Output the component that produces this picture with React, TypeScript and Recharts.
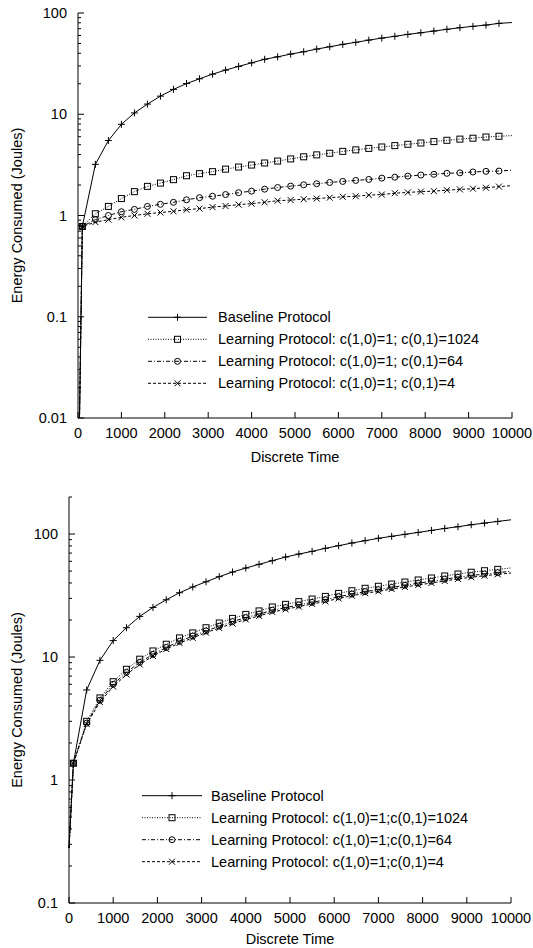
import React from "react";
import { LineChart, Line, XAxis, YAxis } from "recharts";

// discrete time steps (x)
const times = [
  0, 100, 400, 700, 1000, 1300, 1600, 1900, 2200, 2500, 2800, 3100, 3400, 3700,
  4000, 4300, 4600, 4900, 5200, 5500, 5800, 6100, 6400, 6700, 7000, 7300, 7600,
  7900, 8200, 8500, 8800, 9100, 9400, 9700, 10000,
];

// upper plot
const topBaseline = [
  0.001, 0.78, 3.2, 5.5, 7.95, 10.3, 12.6, 15.1, 17.6, 20.1, 22.4, 24.9, 27.3,
  29.7, 32.2, 34.9, 36.9, 39.3, 41.4, 44, 46.4, 49, 51.3, 54, 56.5, 58.8, 61.5,
  63.8, 66.3, 69, 71.6, 73.8, 76, 79, 80.5,
];
const topC1024 = [
  0.001, 0.78, 1.04, 1.23, 1.47, 1.72, 1.94, 2.09, 2.26, 2.47, 2.59, 2.71, 2.87,
  3.01, 3.15, 3.3, 3.45, 3.62, 3.8, 3.97, 4.12, 4.3, 4.45, 4.6, 4.75, 4.9, 5.05,
  5.2, 5.37, 5.53, 5.68, 5.8, 5.96, 6.06, 6.15,
];
const topC64 = [
  0.001, 0.78, 0.91, 1.0, 1.09, 1.15, 1.23, 1.29, 1.35, 1.43, 1.5, 1.55, 1.61,
  1.68, 1.74, 1.82, 1.89, 1.95, 2.01, 2.06, 2.12, 2.17, 2.22, 2.27, 2.34, 2.39,
  2.45, 2.51, 2.55, 2.61, 2.64, 2.69, 2.73, 2.75, 2.8,
];
const topC4 = [
  0.001, 0.78, 0.86, 0.91, 0.96, 1.0, 1.04, 1.07, 1.1, 1.14, 1.17, 1.21, 1.24,
  1.28, 1.31, 1.35, 1.4, 1.42, 1.45, 1.47, 1.5, 1.53, 1.55, 1.59, 1.61, 1.66,
  1.69, 1.72, 1.74, 1.78, 1.81, 1.84, 1.88, 1.93, 1.97,
];

// lower plot
const botBaseline = [
  0.28, 1.37, 5.4, 9.4, 13.6, 17.3, 21.4, 25.3, 29.2, 33.3, 37.1, 40.9, 45,
  49.1, 52.9, 56.7, 60.7, 65, 68.7, 72.3, 76.5, 80.4, 84.5, 88.3, 92.3, 95.8,
  99.4, 103, 107, 111, 114.6, 119, 122.7, 126.6, 130.5,
];
const botC1024 = [
  0.28, 1.37, 3.0, 4.65, 6.3, 7.95, 9.6, 11.2, 12.7, 14.3, 15.7, 17.3, 18.9,
  20.6, 22.2, 23.7, 25.5, 26.8, 28.2, 29.6, 31.1, 32.9, 34.6, 36.2, 37.6, 39.2,
  40.7, 42.3, 43.9, 45.6, 47.3, 48.9, 50.3, 51.6, 53.0,
];
const botC64 = [
  0.28, 1.37, 2.9, 4.45, 6.0, 7.5, 9.05, 10.5, 11.95, 13.4, 14.8, 16.3, 17.8,
  19.4, 20.9, 22.3, 24.0, 25.2, 26.5, 27.8, 29.2, 30.9, 32.5, 34.0, 35.3, 36.8,
  38.3, 39.8, 41.3, 42.9, 44.5, 46.0, 47.3, 48.5, 49.8,
];
const botC4 = [
  0.28, 1.37, 2.85, 4.3, 5.75, 7.2, 8.7, 10.2, 11.6, 13.0, 14.3, 15.8, 17.2,
  18.7, 20.2, 21.6, 23.2, 24.4, 25.7, 27.0, 28.3, 29.9, 31.5, 33.0, 34.2, 35.7,
  37.1, 38.5, 40.0, 41.5, 43.1, 44.5, 45.8, 47.0, 48.2,
];

const xTicks = [0, 1000, 2000, 3000, 4000, 5000, 6000, 7000, 8000, 9000, 10000];
const topMajors = [0.01, 0.1, 1, 10, 100];
const botMajors = [0.1, 1, 10, 100];

const topNames = [
  "Baseline Protocol",
  "Learning Protocol: c(1,0)=1; c(0,1)=1024",
  "Learning Protocol: c(1,0)=1; c(0,1)=64",
  "Learning Protocol: c(1,0)=1; c(0,1)=4",
];
const botNames = [
  "Baseline Protocol",
  "Learning Protocol: c(1,0)=1;c(0,1)=1024",
  "Learning Protocol: c(1,0)=1;c(0,1)=64",
  "Learning Protocol: c(1,0)=1;c(0,1)=4",
];

const keys = ["base", "c1024", "c64", "c4"];
const markers = ["plus", "square", "circle", "cross"];
const dashes = [undefined, "1 1.5", "4 2 1 2", "3 2"];

const FONT = '"Liberation Sans", Arial, Helvetica, sans-serif';
const FS = 14.5;
const INK = "#000";

function logTicks(majors: number[], max: number) {
  const out: number[] = [];
  majors.forEach((m) => {
    for (let k = 1; k <= 9; k++) {
      const v = +(m * k).toPrecision(6);
      if (v <= max) out.push(v);
    }
  });
  return out;
}

const isMajor = (v: number) => {
  const l = Math.log10(v);
  return Math.abs(l - Math.round(l)) < 1e-9;
};

function Marker({ kind, cx, cy }: { kind: string; cx: number; cy: number }) {
  const s = { stroke: INK, strokeWidth: 1, fill: "none" };
  if (kind === "plus")
    return <path d={`M${cx - 3.5},${cy}h7M${cx},${cy - 3.5}v7`} {...s} />;
  if (kind === "square")
    return <rect x={cx - 3} y={cy - 3} width={6} height={6} {...s} />;
  if (kind === "circle") return <circle cx={cx} cy={cy} r={3} {...s} />;
  return <path d={`M${cx - 3},${cy - 3}l6,6M${cx - 3},${cy + 3}l6,-6`} {...s} />;
}

const LEFT_GAP = 11;

function LeftTick(props: any) {
  const { x, y, payload } = props;
  const v = payload.value;
  const major = isMajor(v);
  const ax = x + LEFT_GAP;
  return (
    <g>
      <line x1={ax} x2={ax + (major ? 6 : 3)} y1={y} y2={y} stroke={INK} />
      {major && (
        <text x={x} y={y} dy="0.35em" textAnchor="end" fontFamily={FONT} fontSize={FS} fill={INK}>
          {String(v)}
        </text>
      )}
    </g>
  );
}

function RightTick(props: any) {
  const { x, y, payload } = props;
  const major = isMajor(payload.value);
  return <line x1={x} x2={x - (major ? 6 : 3)} y1={y} y2={y} stroke={INK} />;
}

function BottomTick(props: any) {
  const { x, y, payload } = props;
  return (
    <g>
      <line x1={x} x2={x} y1={y} y2={y - 6} stroke={INK} />
      <text x={x} y={y + 15} dy="0.35em" textAnchor="middle" fontFamily={FONT} fontSize={FS} fill={INK}>
        {String(payload.value)}
      </text>
    </g>
  );
}

function TopTick(props: any) {
  const { x, y } = props;
  return <line x1={x} x2={x} y1={y} y2={y + 6} stroke={INK} />;
}

type PanelProps = {
  series: number[][];
  names: string[];
  yDomain: [number, number];
  majors: number[];
  plot: { left: number; top: number; right: number; bottom: number };
  legend: { top: number; x1: number; x2: number; tx: number };
  yTitleY: number;
  xTitleY: number;
};

const W = 533;
const H = 474;

function Panel({ series, names, yDomain, majors, plot, legend, yTitleY, xTitleY }: PanelProps) {
  const rows = times.map((t, i) => {
    const r: any = { t };
    keys.forEach((k, j) => (r[k] = series[j][i]));
    return r;
  });
  const yTicks = logTicks(majors, yDomain[1]);
  const xAxisH = 40;

  return (
    <div style={{ position: "relative", width: W, height: H }}>
      <LineChart
        width={W}
        height={H}
        data={rows}
        margin={{
          top: plot.top,
          left: 0,
          right: W - plot.right,
          bottom: H - plot.bottom - xAxisH,
        }}
      >
        <XAxis
          dataKey="t"
          type="number"
          domain={[0, 10000]}
          ticks={xTicks}
          interval={0}
          height={xAxisH}
          tickSize={0}
          tickMargin={0}
          tickLine={false}
          axisLine={{ stroke: INK }}
          tick={<BottomTick />}
        />
        <XAxis
          xAxisId="top"
          orientation="top"
          dataKey="t"
          type="number"
          domain={[0, 10000]}
          ticks={xTicks}
          interval={0}
          height={0}
          tickSize={0}
          tickMargin={0}
          tickLine={false}
          axisLine={{ stroke: INK }}
          tick={<TopTick />}
        />
        <YAxis
          type="number"
          scale="log"
          domain={yDomain}
          allowDataOverflow
          ticks={yTicks}
          interval={0}
          width={plot.left}
          tickSize={0}
          tickMargin={LEFT_GAP}
          tickLine={false}
          axisLine={{ stroke: INK }}
          tick={<LeftTick />}
        />
        <YAxis
          yAxisId="right"
          orientation="right"
          type="number"
          scale="log"
          domain={yDomain}
          allowDataOverflow
          ticks={yTicks}
          interval={0}
          width={0}
          tickSize={0}
          tickMargin={0}
          tickLine={false}
          axisLine={{ stroke: INK }}
          tick={<RightTick />}
        />
        {keys.map((k, j) => (
          <Line
            key={k}
            dataKey={k}
            type="linear"
            stroke={INK}
            strokeWidth={1}
            strokeDasharray={dashes[j]}
            isAnimationActive={false}
            activeDot={false}
            dot={(p: any) => {
              if (p.index === 0 || p.index === times.length - 1 || p.cy == null)
                return <g key={`${k}-${p.index}`} />;
              return <Marker key={`${k}-${p.index}`} kind={markers[j]} cx={p.cx} cy={p.cy} />;
            }}
          />
        ))}
      </LineChart>

      <svg
        width={W}
        height={H}
        style={{ position: "absolute", left: 0, top: 0, pointerEvents: "none" }}
      >
        <text
          x={16.5}
          y={yTitleY}
          dy="0.35em"
          textAnchor="middle"
          transform={`rotate(-90 16.5 ${yTitleY})`}
          fontFamily={FONT}
          fontSize={FS}
          fill={INK}
        >
          Energy Consumed (Joules)
        </text>
        <text
          x={(plot.left + plot.right) / 2}
          y={xTitleY}
          dy="0.35em"
          textAnchor="middle"
          fontFamily={FONT}
          fontSize={FS}
          fill={INK}
        >
          Discrete Time
        </text>
        {names.map((n, j) => {
          const y = legend.top + j * 22;
          return (
            <g key={n}>
              <line
                x1={legend.x1}
                x2={legend.x2}
                y1={y}
                y2={y}
                stroke={INK}
                strokeDasharray={dashes[j]}
              />
              <Marker kind={markers[j]} cx={(legend.x1 + legend.x2) / 2} cy={y} />
              <text x={legend.tx} y={y} dy="0.35em" fontFamily={FONT} fontSize={FS} fill={INK}>
                {n}
              </text>
            </g>
          );
        })}
      </svg>
    </div>
  );
}

export default function App() {
  return (
    <div style={{ position: "absolute", left: 0, top: 0, width: W, height: 948, background: "#fff" }}>
      <Panel
        series={[topBaseline, topC1024, topC64, topC4]}
        names={topNames}
        yDomain={[0.01, 100]}
        majors={topMajors}
        plot={{ left: 78, top: 13, right: 512, bottom: 418 }}
        legend={{ top: 317.3, x1: 148, x2: 207, tx: 218 }}
        yTitleY={215.5}
        xTitleY={456.7}
      />
      <Panel
        series={[botBaseline, botC1024, botC64, botC4]}
        names={botNames}
        yDomain={[0.1, 200]}
        majors={botMajors}
        plot={{ left: 69, top: 23, right: 511, bottom: 429 }}
        legend={{ top: 321.7, x1: 142, x2: 202, tx: 211 }}
        yTitleY={226}
        xTitleY={465.3}
      />
    </div>
  );
}
